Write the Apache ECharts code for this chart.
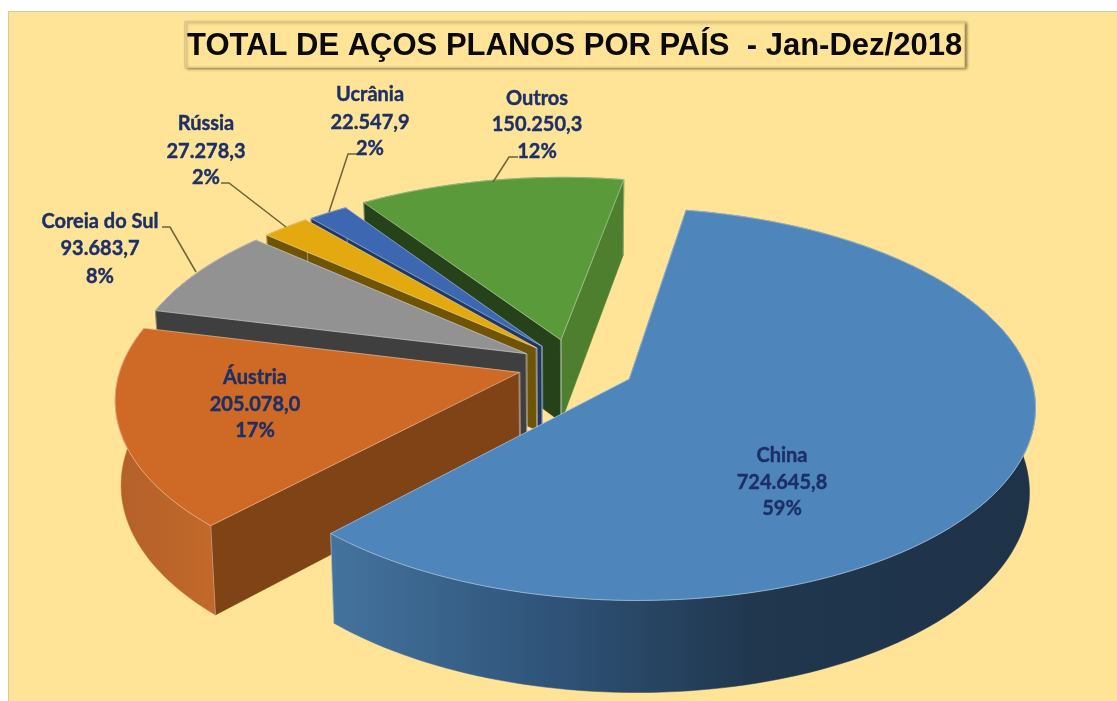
<!DOCTYPE html>
<html><head><meta charset="utf-8">
<script src="https://cdn.jsdelivr.net/npm/echarts@6/dist/echarts.min.js"></script>
<style>html,body{margin:0;padding:0;background:#fff}#c{width:1117px;height:701px}</style>
</head><body><div id="c"></div>
<script>
// ---- data ----
const categories = ['China','Áustria','Coreia do Sul','Rússia','Ucrânia','Outros'];
const values = [724645.8,205078.0,93683.7,27278.3,22547.9,150250.3];
const titleText = 'TOTAL DE AÇOS PLANOS POR PAÍS  - Jan-Dez/2018';
// ---- styles / layout ----
const explode = [0.16,0.137,0.13,0.128,0.126,0.137];
const topColors = ['#4E86BC','#CF6A26','#929292','#E3A90F','#3D68B1','#5B9A3A'];
const wallStart = ['#2a4a6b','#7F4315','#3F3F3F','#6F5405','#1F3864','#26421A'];
const wallEnd = [null,null,null,null,null,'#4D7F2E'];
const outerFill = ['#2a4a6b','#B4602A','#3F3F3F','#6F5405','#1F3864','#26421A'];
const labelX = [782,255,100,206,370,537];
const labelY = [[456,483,509],[378,405,431],[222,249,277],[124,152,178],[95,123,149],[99,125,152]];
const leaders = [null,null,
  [[162,227],[170,227],[196,272]],
  [[221,183],[229,183],[286,227]],
  [[357,154],[348,154],[329,212]],
  [[518,157],[509,157],[493,182]]];
const START_ANGLE = 10.2, CX = 572, CY = 365, R = 398, KR = 189.5, P = 0.128, H = 83, LEAN = 0.013;

const total = values.reduce((a,b)=>a+b,0);
const spans = values.map(v=>v/total*360);
const starts = spans.map((_,i)=>START_ANGLE+spans.slice(0,i).reduce((a,b)=>a+b,0));
const fmt = v => { const [a,b]=v.toFixed(1).split('.'); return a.replace(/\B(?=(\d{3})+$)/g,'.')+','+b; };

function project(X,Y){ const s=1/(1-P*Y); return {x:CX+R*X*s,y:CY+KR*Y*s,s}; }
function lower(p){ return [p.x-(p.x-CX)*LEAN, p.y+H*Math.pow(p.s,0.7)]; }
function pieceGeom(i){
  const a0=starts[i], a1=a0+spans[i], m=(a0+a1)/2*Math.PI/180;
  const ox=explode[i]*Math.sin(m), oy=-explode[i]*Math.cos(m);
  const arc=[];
  for(let a=a0;;a+=1.5){ const t=Math.min(a,a1)*Math.PI/180;
    arc.push(project(ox+Math.sin(t),oy-Math.cos(t))); if(a>=a1)break; }
  return {apex:project(ox,oy),arc};
}
const xy=p=>[p.x,p.y];
function wallGrad(i){
  if(i===0) return new echarts.graphic.LinearGradient(325,0,1036,0,[
    {offset:0,color:'#44749F'},{offset:.32,color:'#2F5378'},{offset:.6,color:'#20374E'},{offset:1,color:'#1E3248'}],true);
  if(i===1) return new echarts.graphic.LinearGradient(115,0,215,0,[
    {offset:0,color:'#B4602A'},{offset:1,color:'#C2692A'}],true);
  return outerFill[i];
}
function renderItem(params){
  const i=params.dataIndex, g=pieceGeom(i), n=g.arc.length, first=g.arc[0], last=g.arc[n-1], z=(i===0?60:i===1?50:i===2?40:i===3?30:i===4?20:10);
  const edge='rgba(255,255,255,0.38)';
  const kids=[];
  const poly=(pts,fill,dz)=>kids.push({type:'polygon',z2:z+dz,silent:true,shape:{points:pts},style:{fill,stroke:fill,lineWidth:0.5}});
  const line=(pts,dz,w)=>kids.push({type:'polyline',z2:z+dz,silent:true,shape:{points:pts},style:{fill:null,stroke:edge,lineWidth:w||1}});
  poly(g.arc.map(xy).concat(g.arc.slice().reverse().map(lower)),wallGrad(i),0);
  if(wallEnd[i]) poly([xy(g.apex),xy(last),lower(last),lower(g.apex)],wallEnd[i],1);
  poly([xy(g.apex),xy(first),lower(first),lower(g.apex)],wallStart[i],1);
  line([xy(first),lower(first)],2); line([xy(last),lower(last)],2); line([xy(g.apex),lower(g.apex)],2,2);
  poly([xy(g.apex)].concat(g.arc.map(xy)),topColors[i],3);
  line([xy(g.apex)].concat(g.arc.map(xy)).concat([xy(g.apex)]),4);
  if(leaders[i]) kids.push({type:'polyline',z2:90,silent:true,shape:{points:leaders[i]},style:{fill:null,stroke:'#6E6238',lineWidth:1.5}});
  const lines=[categories[i],fmt(values[i]),Math.round(values[i]/total*100)+'%'];
  lines.forEach((t,k)=>kids.push({type:'text',z2:100,silent:true,x:labelX[i],y:labelY[i][k],
    style:{text:t,fill:'#1C2F66',stroke:'#1C2F66',lineWidth:0.4,font:'bold 20px Lato, Carlito, sans-serif',align:'center',verticalAlign:'middle'}}));
  return {type:'group',children:kids};
}
const chart=echarts.init(document.getElementById('c'),null,{renderer:'canvas'});
chart.setOption({
  animation:false,
  backgroundColor:'#fff',
  graphic:[{type:'rect',z:-10,silent:true,shape:{x:8.5,y:11.5,width:1120,height:700},style:{fill:'#FFE498',stroke:'#D6C99F',lineWidth:1}}],
  title:{text:titleText,left:184,top:23,padding:[10,3,6,3],backgroundColor:'#FFE498',borderColor:'#D8C693',borderWidth:1,
    shadowColor:'rgba(60,40,0,0.55)',shadowBlur:3,shadowOffsetX:2,shadowOffsetY:1,
    textStyle:{color:'#0a0a0a',fontFamily:'Liberation Sans',fontWeight:'bold',fontSize:31,lineHeight:27}},
  series:[{type:'custom',coordinateSystem:'none',renderItem,data:values,silent:true,z:5}]
});
</script></body></html>
